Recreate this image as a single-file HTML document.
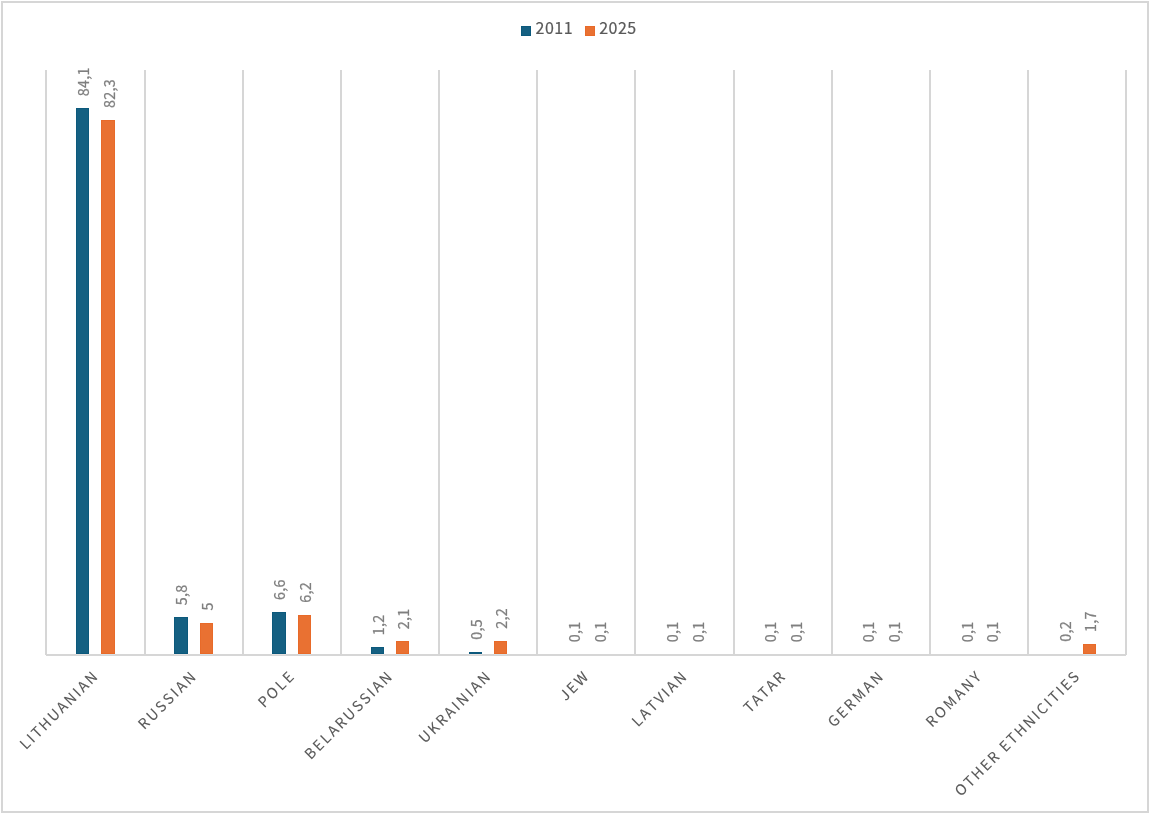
<!DOCTYPE html>
<html lang="en"><head><meta charset="utf-8"><title>Population by ethnicity, 2011 and 2025</title>
<style>html,body{margin:0;padding:0;background:#fff;}body{width:1150px;height:814px;overflow:hidden;}svg{display:block;will-change:transform;}text{font-family:"Noto Sans CJK SC","Liberation Sans",sans-serif;font-kerning:none;font-weight:400;}</style></head><body>
<svg width="1150" height="814" viewBox="0 0 1150 814">
<rect x="0" y="0" width="1150" height="814" fill="#fff"/>
<rect x="2" y="2" width="1146" height="810" fill="#fff" stroke="#d6d6d6" stroke-width="2"/>
<g fill="#d6d6d6">
<rect x="45" y="70" width="2" height="585"/>
<rect x="144" y="70" width="2" height="585"/>
<rect x="242" y="70" width="2" height="585"/>
<rect x="340" y="70" width="2" height="585"/>
<rect x="438" y="70" width="2" height="585"/>
<rect x="536" y="70" width="2" height="585"/>
<rect x="634" y="70" width="2" height="585"/>
<rect x="733" y="70" width="2" height="585"/>
<rect x="831" y="70" width="2" height="585"/>
<rect x="929" y="70" width="2" height="585"/>
<rect x="1027" y="70" width="2" height="585"/>
<rect x="1125" y="70" width="2" height="585"/>
</g>
<rect x="76" y="108" width="13" height="546" fill="#0c597c"/>
<rect x="77" y="109" width="11" height="544" fill="#156082"/>
<rect x="101" y="120" width="14" height="534" fill="#e86a29"/>
<rect x="102" y="121" width="12" height="532" fill="#e97132"/>
<rect x="174" y="617" width="14" height="37" fill="#0c597c"/>
<rect x="175" y="618" width="12" height="35" fill="#156082"/>
<rect x="200" y="623" width="13" height="31" fill="#e86a29"/>
<rect x="201" y="624" width="11" height="29" fill="#e97132"/>
<rect x="272" y="612" width="14" height="42" fill="#0c597c"/>
<rect x="273" y="613" width="12" height="40" fill="#156082"/>
<rect x="298" y="615" width="13" height="39" fill="#e86a29"/>
<rect x="299" y="616" width="11" height="37" fill="#e97132"/>
<rect x="371" y="647" width="13" height="7" fill="#0c597c"/>
<rect x="372" y="648" width="11" height="5" fill="#156082"/>
<rect x="396" y="641" width="13" height="13" fill="#e86a29"/>
<rect x="397" y="642" width="11" height="11" fill="#e97132"/>
<rect x="469" y="652" width="13" height="2" fill="#0c597c"/>
<rect x="494" y="641" width="13" height="13" fill="#e86a29"/>
<rect x="495" y="642" width="11" height="11" fill="#e97132"/>
<rect x="1083" y="644" width="13" height="10" fill="#e86a29"/>
<rect x="1084" y="645" width="11" height="8" fill="#e97132"/>
<rect x="46" y="654" width="1080" height="2" fill="#d6d6d6"/>
<rect x="76" y="654" width="13" height="1" fill="#e6e1df"/>
<rect x="101" y="654" width="14" height="1" fill="#d8e0e5"/>
<rect x="174" y="654" width="14" height="1" fill="#e6e1df"/>
<rect x="200" y="654" width="13" height="1" fill="#d8e0e5"/>
<rect x="272" y="654" width="14" height="1" fill="#e6e1df"/>
<rect x="298" y="654" width="13" height="1" fill="#d8e0e5"/>
<rect x="371" y="654" width="13" height="1" fill="#e6e1df"/>
<rect x="396" y="654" width="13" height="1" fill="#d8e0e5"/>
<rect x="469" y="654" width="13" height="1" fill="#e6e1df"/>
<rect x="494" y="654" width="13" height="1" fill="#d8e0e5"/>
<rect x="1083" y="654" width="13" height="1" fill="#d8e0e5"/>
<g font-size="14.3" letter-spacing="0.3" fill="#7f7f7f" stroke="#7f7f7f" stroke-width="0.25">
<text transform="translate(89.05,96.30) rotate(-90)">84,1</text>
<text transform="translate(114.65,108.00) rotate(-90)">82,3</text>
<text transform="translate(187.23,605.25) rotate(-90)">5,8</text>
<text transform="translate(212.83,610.45) rotate(-90)">5</text>
<text transform="translate(285.41,600.05) rotate(-90)">6,6</text>
<text transform="translate(311.01,602.65) rotate(-90)">6,2</text>
<text transform="translate(383.59,635.15) rotate(-90)">1,2</text>
<text transform="translate(409.19,629.30) rotate(-90)">2,1</text>
<text transform="translate(481.77,639.70) rotate(-90)">0,5</text>
<text transform="translate(507.37,628.65) rotate(-90)">2,2</text>
<text transform="translate(579.95,642.30) rotate(-90)">0,1</text>
<text transform="translate(605.55,642.30) rotate(-90)">0,1</text>
<text transform="translate(678.13,642.30) rotate(-90)">0,1</text>
<text transform="translate(703.73,642.30) rotate(-90)">0,1</text>
<text transform="translate(776.31,642.30) rotate(-90)">0,1</text>
<text transform="translate(801.91,642.30) rotate(-90)">0,1</text>
<text transform="translate(874.49,642.30) rotate(-90)">0,1</text>
<text transform="translate(900.09,642.30) rotate(-90)">0,1</text>
<text transform="translate(972.67,642.30) rotate(-90)">0,1</text>
<text transform="translate(998.27,642.30) rotate(-90)">0,1</text>
<text transform="translate(1070.85,641.65) rotate(-90)">0,2</text>
<text transform="translate(1096.45,631.90) rotate(-90)">1,7</text>
</g>
<g font-size="14.4" fill="#595959" text-anchor="end" stroke="#595959" stroke-width="0.1">
<text transform="translate(99.81,676.58) rotate(-45)" letter-spacing="2.03">LITHUANIAN</text>
<text transform="translate(198.18,676.39) rotate(-45)" letter-spacing="2.3">RUSSIAN</text>
<text transform="translate(296.38,676.37) rotate(-45)" letter-spacing="2.33">POLE</text>
<text transform="translate(394.44,676.49) rotate(-45)" letter-spacing="2.16">BELARUSSIAN</text>
<text transform="translate(492.67,676.44) rotate(-45)" letter-spacing="2.24">UKRAINIAN</text>
<text transform="translate(590.83,676.46) rotate(-45)" letter-spacing="2.2">JEW</text>
<text transform="translate(689.01,676.46) rotate(-45)" letter-spacing="2.2">LATVIAN</text>
<text transform="translate(786.83,676.82) rotate(-45)" letter-spacing="1.7">TATAR</text>
<text transform="translate(885.54,676.29) rotate(-45)" letter-spacing="2.44">GERMAN</text>
<text transform="translate(983.76,676.25) rotate(-45)" letter-spacing="2.5">ROMANY</text>
<text transform="translate(1081.60,676.59) rotate(-45)" letter-spacing="2.02">OTHER ETHNICITIES</text>
</g>
<rect x="521" y="26" width="10" height="10" fill="#0c597c"/>
<rect x="522" y="27" width="8" height="8" fill="#156082"/>
<rect x="585" y="26" width="10" height="10" fill="#e86a29"/>
<rect x="586" y="27" width="8" height="8" fill="#e97132"/>
<g font-size="16" letter-spacing="0.5" fill="#595959" stroke="#595959" stroke-width="0.2">
<text x="535.5" y="34">2011</text>
<text x="599.2" y="34">2025</text>
</g>
</svg></body></html>
